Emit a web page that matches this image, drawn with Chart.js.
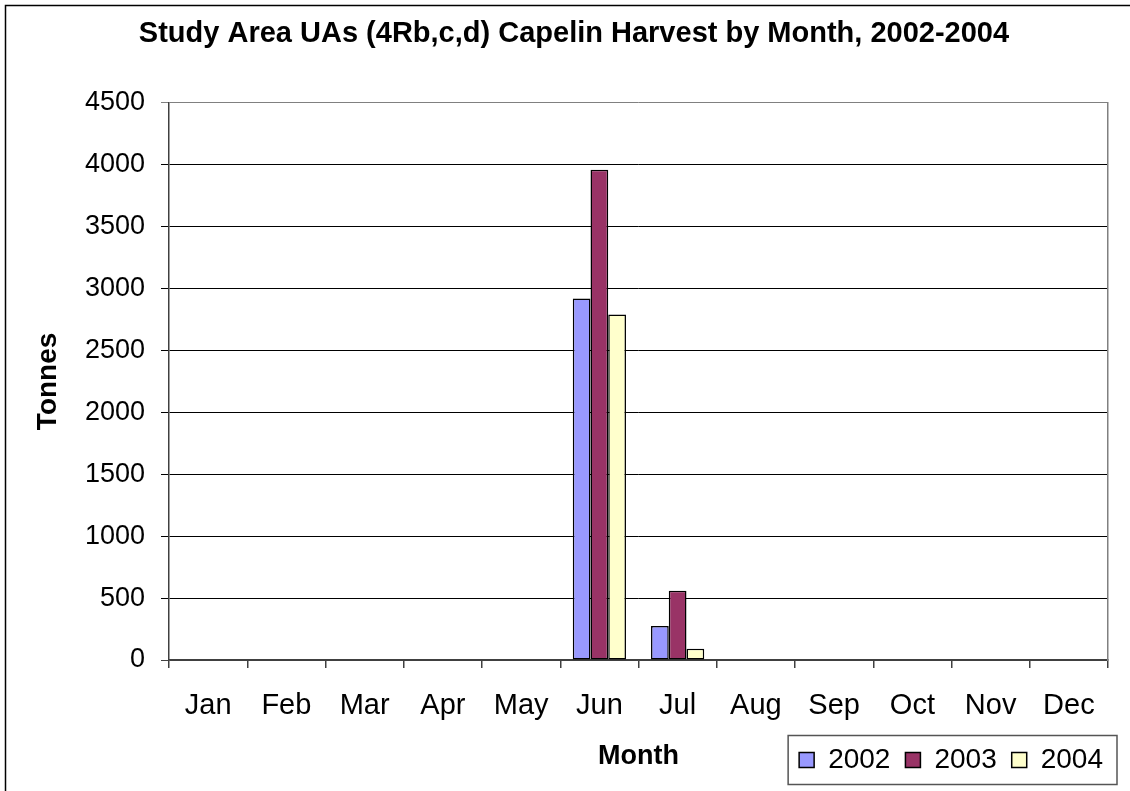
<!DOCTYPE html>
<html>
<head>
<meta charset="utf-8">
<title>Capelin Harvest by Month</title>
<script src="https://cdn.jsdelivr.net/npm/chart.js@4"></script>
<style>
  html, body { margin: 0; padding: 0; background: #ffffff; }
  #wrap { width: 1130px; height: 791px; position: relative; }
</style>
</head>
<body>
<div id="wrap"><canvas id="chart"></canvas></div>
<script>
// Monthly capelin landings (tonnes) in unit areas 4Rb, 4Rc and 4Rd
const months = ['Jan', 'Feb', 'Mar', 'Apr', 'May', 'Jun', 'Jul', 'Aug', 'Sep', 'Oct', 'Nov', 'Dec'];
const harvest2002 = [0, 0, 0, 0, 0, 2920, 275, 0, 0, 0, 0, 0];
const harvest2003 = [0, 0, 0, 0, 0, 3960, 560, 0, 0, 0, 0, 0];
const harvest2004 = [0, 0, 0, 0, 0, 2790, 90, 0, 0, 0, 0, 0];
const seriesNames = ['2002', '2003', '2004'];
const yTicks = [0, 500, 1000, 1500, 2000, 2500, 3000, 3500, 4000, 4500];

const FONT = "'Liberation Sans', Arial, Helvetica, sans-serif";

// White page, thin frame around the whole figure, box around the legend
const framePlugin = {
  id: 'frame',
  beforeDraw(chart) {
    const c = chart.ctx;
    c.save();
    c.fillStyle = '#ffffff';
    c.fillRect(0, 0, chart.width, chart.height);
    c.strokeStyle = '#000000';
    c.lineWidth = 1.5;
    c.strokeRect(5.5, 5.5, chart.width + 20, chart.height + 20);
    c.restore();
  },
  afterDraw(chart) {
    const boxes = chart.legend && chart.legend.legendHitBoxes;
    if (!boxes || !boxes.length) return;
    const first = boxes[0];
    const last = boxes[boxes.length - 1];
    const mid = first.top + first.height / 2;
    const c = chart.ctx;
    c.save();
    c.strokeStyle = '#555555';
    c.lineWidth = 1.5;
    const x0 = first.left - 11;
    const x1 = last.left + last.width + 14;
    c.strokeRect(x0, mid - 24.5, x1 - x0, 49);
    c.restore();
  }
};

new Chart(document.getElementById('chart'), {
  type: 'bar',
  data: {
    labels: months,
    datasets: [
      { label: seriesNames[0], data: harvest2002, backgroundColor: '#9999FF' },
      { label: seriesNames[1], data: harvest2003, backgroundColor: '#993366' },
      { label: seriesNames[2], data: harvest2004, backgroundColor: '#FFFFCC' }
    ]
  },
  options: {
    responsive: true,
    maintainAspectRatio: false,
    animation: false,
    devicePixelRatio: 1,
    layout: { padding: { left: 30, right: 12, top: 10, bottom: 7 } },
    datasets: {
      bar: {
        borderColor: '#000000',
        borderWidth: 1.5,
        borderSkipped: false,
        categoryPercentage: 0.68,
        barPercentage: 1.0
      }
    },
    plugins: {
      title: {
        display: true,
        text: 'Study Area UAs (4Rb,c,d) Capelin Harvest by Month, 2002-2004',
        color: '#000000',
        font: { family: FONT, size: 29, weight: 'bold' },
        padding: { top: 7, bottom: 51 }
      },
      legend: {
        position: 'bottom',
        align: 'end',
        labels: {
          color: '#000000',
          font: { family: FONT, size: 28 },
          boxWidth: 15,
          boxHeight: 15,
          padding: 15
        }
      },
      tooltip: { enabled: false }
    },
    scales: {
      x: {
        offset: true,
        grid: {
          offset: true,
          drawOnChartArea: false,
          drawTicks: true,
          tickLength: 8,
          color: '#404040',
          lineWidth: 1.5
        },
        border: { display: true, color: '#404040', width: 1.5 },
        ticks: {
          color: '#000000',
          font: { family: FONT, size: 29 },
          padding: 21,
          maxRotation: 0,
          autoSkip: false
        },
        title: {
          display: true,
          text: 'Month',
          color: '#000000',
          font: { family: FONT, size: 27, weight: 'bold' },
          padding: { top: 0, bottom: -42.2 }
        },
        afterFit(scale) { scale.height = 71; }
      },
      y: {
        min: 0,
        max: 4500,
        afterBuildTicks(scale) { scale.ticks = yTicks.map(v => ({ value: v })); },
        grid: {
          drawTicks: true,
          tickLength: 8,
          lineWidth: 1,
          color(ctx) {
            if (ctx.tick && ctx.tick.value === 4500) return '#808080';
            if (ctx.tick && ctx.tick.value === 0) return '#404040';
            return '#000000';
          }
        },
        border: { display: true, color: '#404040', width: 1.5 },
        ticks: {
          color: '#000000',
          font: { family: FONT, size: 27 },
          padding: 16,
          callback: (value) => String(value)
        },
        title: {
          display: true,
          text: 'Tonnes',
          color: '#000000',
          font: { family: FONT, size: 28, weight: 'bold' },
          padding: { top: 1.2, bottom: 0 }
        },
        afterFit(scale) { scale.width = 139; }
      },
      // right-hand edge of the plot frame
      frameRight: {
        position: 'right',
        display: true,
        grid: { display: false },
        ticks: { display: false },
        border: { display: true, color: '#808080', width: 1.5 },
        afterFit(scale) { scale.width = 10; }
      }
    }
  },
  plugins: [framePlugin]
});
</script>
</body>
</html>
